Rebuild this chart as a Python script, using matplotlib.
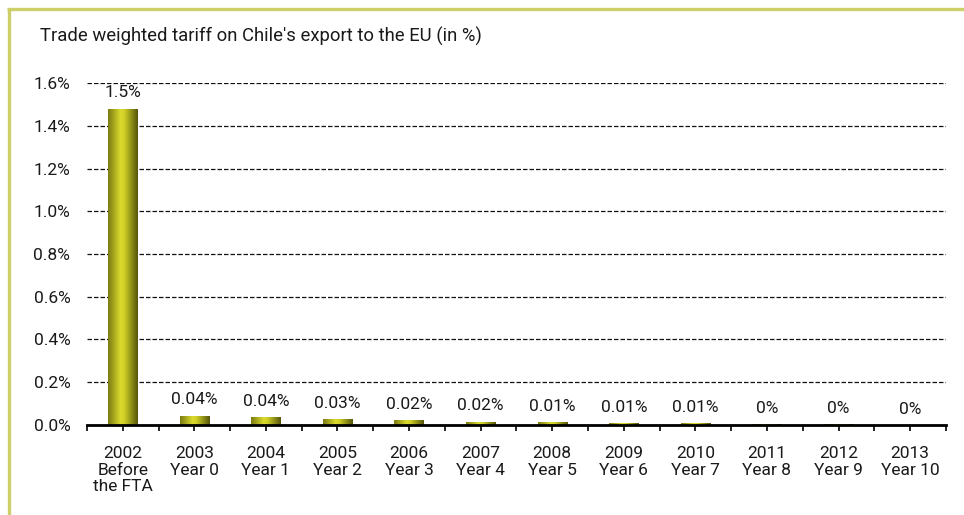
import numpy as np
import matplotlib
matplotlib.use("Agg")
import matplotlib.pyplot as plt
from matplotlib.colors import LinearSegmentedColormap
from matplotlib.lines import Line2D

plt.rcParams['font.family'] = ['Roboto', 'DejaVu Sans']

# trade weighted tariff on Chile's export to the EU, in %
years = ['2002', '2003', '2004', '2005', '2006', '2007',
         '2008', '2009', '2010', '2011', '2012', '2013']
stages = ['Before\nthe FTA', 'Year 0', 'Year 1', 'Year 2', 'Year 3', 'Year 4',
          'Year 5', 'Year 6', 'Year 7', 'Year 8', 'Year 9', 'Year 10']
tariff = [1.48, 0.044, 0.036, 0.028, 0.021, 0.016,
          0.012, 0.008, 0.007, 0.004, 0.004, 0.0]
yticks = [0.0, 0.2, 0.4, 0.6, 0.8, 1.0, 1.2, 1.4, 1.6]


def pct_label(v):
    if v >= 1:
        return f"{v:.1f}%"
    if round(v, 2) == 0:
        return "0%"
    return f"{v:.2f}%"


fig = plt.figure(figsize=(9.64, 5.15), dpi=100)
ax = fig.add_axes([0.0902, 0.1748, 0.891, 0.6640])

x = np.arange(len(years))
bars = ax.bar(x, tariff, width=0.41, color='none', edgecolor='none', zorder=3)

# cylinder shading across each bar
shade = LinearSegmentedColormap.from_list(
    'olive', [(0.0, '#7c7c14'), (0.42, '#dada2e'), (0.55, '#cfcf26'), (1.0, '#56560c')])
grad = np.linspace(0, 1, 64).reshape(1, -1)
for b in bars:
    if b.get_height() <= 0:
        continue
    x0, w, h = b.get_x(), b.get_width(), b.get_height()
    im = ax.imshow(grad, cmap=shade, aspect='auto', extent=(x0, x0 + w, 0, h),
                   zorder=3, interpolation='bicubic')
    im.set_clip_path(b)

for xi, v in zip(x, tariff):
    ax.annotate(pct_label(v), (xi, v), xytext=(0, 6), textcoords='offset points',
                ha='center', va='bottom', fontsize=12.5, color='#1a1a1a')

ax.set_xlim(-0.5, len(years) - 0.5)
ax.set_ylim(0, 1.6)
ax.set_yticks(yticks)
ax.set_yticklabels([f"{t:.1f}%" for t in yticks])
ax.set_xticks(x)
ax.set_xticklabels([f"{y}\n{s}" for y, s in zip(years, stages)], linespacing=1.15)
ax.set_xticks(np.arange(-0.5, len(years)), minor=True)

ax.yaxis.grid(True, linestyle=(0, (3.6, 1.6)), color='#111111', linewidth=0.9, zorder=1)
ax.tick_params(axis='y', length=0, pad=12, labelsize=12.5, labelcolor='#1a1a1a')
ax.tick_params(axis='x', which='both', length=4, width=1.2, direction='out', color='black')
ax.tick_params(axis='x', which='major', pad=11, labelsize=12.5, labelcolor='#1a1a1a')

for s in ['top', 'right', 'left']:
    ax.spines[s].set_visible(False)
ax.spines['bottom'].set_linewidth(2)
ax.spines['bottom'].set_zorder(4)

fig.text(40 / 964, 1 - 36 / 515, "Trade weighted tariff on Chile's export to the EU (in %)",
         fontsize=13.3, color='#1a1a1a', va='center', ha='left')

# khaki frame on the top and left side
frame = '#cfcf6a'
fig.add_artist(Line2D([8.5 / 964, 8.5 / 964], [0, 1 - 8.5 / 515], transform=fig.transFigure,
                      color=frame, linewidth=2.4, solid_capstyle='butt'))
fig.add_artist(Line2D([7.3 / 964, 1], [1 - 8.5 / 515, 1 - 8.5 / 515], transform=fig.transFigure,
                      color=frame, linewidth=2.4, solid_capstyle='butt'))

fig.savefig('out.png', dpi=100)
